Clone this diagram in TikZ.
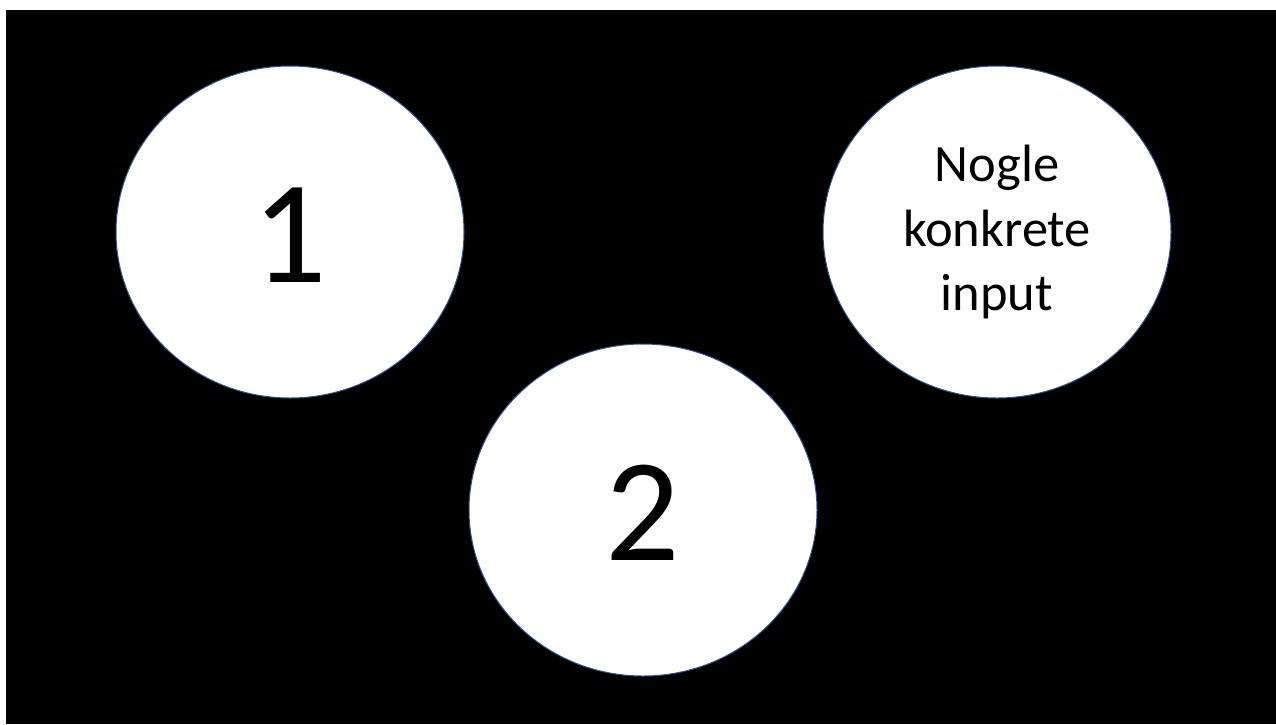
\documentclass[tikz,border=0pt]{standalone}
\usepackage{fontspec}
\setmainfont{Carlito}
\definecolor{rim_color}{HTML}{2F528F}
\usetikzlibrary{shapes.geometric}

\begin{document}
\begin{tikzpicture}[x=1pt, y=-1pt,
    bubble/.style={ellipse, draw=rim_color, fill=white, line width=1pt,
      minimum width=348pt, minimum height=332pt, inner sep=0pt, align=center},
    digit/.style={font=\fontsize{147}{176}\selectfont, text height=101pt}]
        \useasboundingbox (0,0) rectangle (1276,724);
        \fill[white] (0,0) rectangle (1276,724);
        \fill[black] (6,10) rectangle (1276,724);
        \node[bubble, digit] (one) at (290,232) {1};
        \node[bubble, digit] (two) at (643,510) {2};
        \node[bubble, font=\fontsize{52.5}{64.5}\selectfont] (input) at (997,232) {Nogle\\konkrete\\input};
      \end{tikzpicture}
\end{document}
